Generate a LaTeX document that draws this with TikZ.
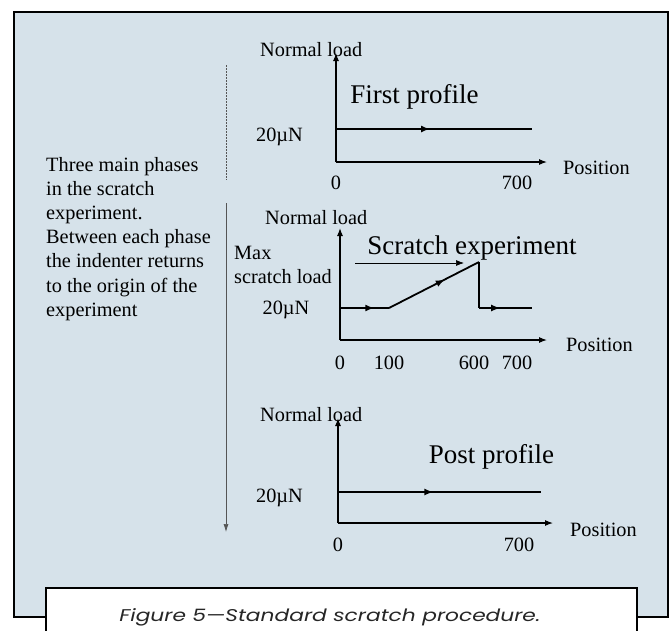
\documentclass[tikz,border=0pt]{standalone}
\usepackage{fontspec}
\setmainfont{Liberation Serif}
\newfontfamily\capfont{Poppins}[FakeStretch=1.28]
\usetikzlibrary{arrows.meta,decorations.markings}
\definecolor{bgblue}{HTML}{D6E2EA}
\definecolor{divgray}{HTML}{555555}
\tikzset{
  txt/.style={inner sep=0pt, font=\fontsize{20.3}{24}\selectfont},
  bigtxt/.style={inner sep=0pt, font=\fontsize{27}{30}\selectfont},
  axis/.style={line width=1.1pt, -{Latex[length=8pt,width=6pt]}},
  prof/.style={line width=1.8pt},
  midarrow/.style={postaction={decorate}, decoration={markings,
      mark=at position #1 with {\arrow{Latex[length=9pt,width=7pt]}}}},
  pointer/.style={line width=0.7pt, -{Latex[length=8pt,width=6pt]}},
}
\begin{document}
\begin{tikzpicture}[x=1pt,y=-1pt]
\useasboundingbox (0,0) rectangle (670,630);
% frame
\draw[line width=1.6pt, fill=bgblue] (14,12) rectangle (668,617);

% left text
\foreach \t [count=\i] in {Three main phases,in the scratch,experiment.,Between each phase,the indenter returns,to the origin of the,experiment}
  \node[txt, anchor=base west] (L\i) at (46,{171+24.2*(\i-1)}) {\t};

% divider
\coordinate (d1) at (226,65);
\coordinate (d2) at (226,180);
\coordinate (d3) at (226,203);
\coordinate (d4) at (226,532);
\draw[divgray, line width=0.7pt, dash pattern=on 2pt off 1pt] (d1) -- (d2);
\draw[divgray, line width=0.7pt, -{Latex[length=8pt,width=5pt]}] (d3) -- (d4);

% ---------- chart 1
\coordinate (o1) at (336,162);
\coordinate (y1) at (336,53);
\coordinate (x1) at (547,162);
\coordinate (p1a) at (336,129);
\coordinate (p1b) at (532,129);
\draw[axis] (o1) -- (y1);
\draw[axis] (o1) -- (x1);
\draw[prof, midarrow=0.48] (p1a) -- (p1b);
\node[txt, anchor=west] (n1) at (260,50) {Normal load};
\node[bigtxt] (t1) at (414.5,97) {First profile};
\node[txt] (v1) at (279.5,137) {20µN};
\node[txt, anchor=west] (pos1) at (563,168) {Position};
\node[txt] (z1) at (336,183) {0};
\node[txt] (s1) at (517,183) {700};

% ---------- chart 2
\coordinate (o2) at (340,340);
\coordinate (y2) at (340,228);
\coordinate (x2) at (547,340);
\coordinate (q1) at (340,308);
\coordinate (q2) at (389,308);
\coordinate (q3) at (479,262);
\coordinate (q4) at (479,308);
\coordinate (q5) at (532,308);
\coordinate (pa) at (355,263);
\coordinate (pb) at (464,263);
\draw[axis] (o2) -- (y2);
\draw[axis] (o2) -- (x2);
\draw[prof, midarrow=0.7] (q1) -- (q2);
\draw[prof, midarrow=0.62] (q2) -- (q3);
\draw[prof, line join=miter] (q3) -- (q4);
\draw[prof, midarrow=0.4] (q4) -- (q5);
\draw[pointer] (pa) -- (pb);
\node[txt, anchor=west] (n2) at (265,218) {Normal load};
\node[bigtxt] (t2) at (472,248) {Scratch experiment};
\node[txt, anchor=west] (m2a) at (234,253) {Max};
\node[txt, anchor=west] (m2b) at (234,277) {scratch load};
\node[txt] (v2) at (286,310) {20µN};
\node[txt, anchor=west] (pos2) at (566,345) {Position};
\node[txt] (z2) at (340,363) {0};
\node[txt] (h2) at (389,363) {100};
\node[txt] (s2) at (474,363) {600};
\node[txt] (e2) at (517,363) {700};

% ---------- chart 3
\coordinate (o3) at (338,523);
\coordinate (y3) at (338,418);
\coordinate (x3) at (553,523);
\coordinate (r1) at (338,492);
\coordinate (r2) at (541,492);
\draw[axis] (o3) -- (y3);
\draw[axis] (o3) -- (x3);
\draw[prof, midarrow=0.47] (r1) -- (r2);
\node[txt, anchor=west] (n3) at (260,415) {Normal load};
\node[bigtxt] (t3) at (491.5,457) {Post profile};
\node[txt] (v3) at (279.5,498) {20µN};
\node[txt, anchor=west] (pos3) at (570,530) {Position};
\node[txt] (z3) at (338,545) {0};
\node[txt] (s3) at (519,545) {700};

% caption
\draw[line width=1.6pt, fill=white] (46,588) rectangle (637,645);
\node[inner sep=0pt, text=black!85, font=\capfont\itshape\fontsize{17}{20}\selectfont] (cap) at (330,617) {Figure 5—Standard scratch procedure.};
\end{tikzpicture}
\end{document}
